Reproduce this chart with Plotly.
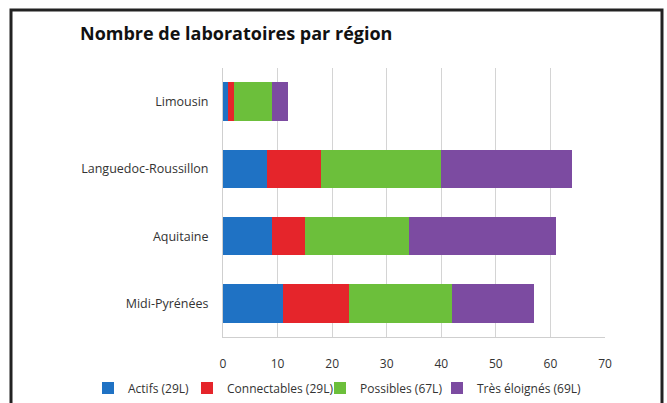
import plotly.graph_objects as go

regions = ["Midi-Pyrénées", "Aquitaine", "Languedoc-Roussillon", "Limousin"]

actifs = [11, 9, 8, 1]
connectables = [12, 6, 10, 1]
possibles = [19, 19, 22, 7]
tres_eloignes = [15, 27, 24, 3]

series = [
    ("Actifs (29L)", actifs, "#1f72c4"),
    ("Connectables (29L)", connectables, "#e5252b"),
    ("Possibles (67L)", possibles, "#6cbf3b"),
    ("Très éloignés (69L)", tres_eloignes, "#7c4ba1"),
]

# plot area: x 223..605 px, y 68..337 px
def px(p):
    return (p - 223) / 382.0

def py(p):
    return (337 - p) / 269.0

# where each legend text starts (px)
legend_text_x = [128, 227, 360, 477]

fig = go.Figure()
legends = {}
for i, (name, vals, col) in enumerate(series):
    key = "legend" if i == 0 else "legend%d" % (i + 1)
    fig.add_trace(go.Bar(
        y=regions, x=vals, name=name, orientation="h",
        marker=dict(color=col, line=dict(width=0)),
        legend=key,
    ))
    legends[key] = dict(
        orientation="h", x=px(legend_text_x[i] - 40), xanchor="left",
        y=py(388), yanchor="middle", bgcolor="rgba(0,0,0,0)",
        font=dict(size=12, color="#333333"), itemwidth=30,
    )

fig.update_layout(
    width=667, height=403,
    margin=dict(l=223, r=62, t=68, b=66, autoexpand=False),
    barmode="stack",
    bargap=0.43,
    paper_bgcolor="white",
    plot_bgcolor="white",
    font=dict(family="Open Sans", size=12, color="#333333"),
    title=dict(
        text="<b>Nombre de laboratoires par région</b>",
        x=80 / 667, xref="container", xanchor="left",
        y=1 - 34 / 403, yref="container", yanchor="middle",
        font=dict(family="Open Sans", size=18, color="#111111"),
    ),
    xaxis=dict(
        range=[0, 70], dtick=10, showgrid=True, gridcolor="#d4d4d4",
        gridwidth=1, zeroline=False, showline=True, linecolor="#cfcfcf",
        ticks="", ticklabelstandoff=16,
        tickfont=dict(size=12, color="#333333"),
    ),
    yaxis=dict(
        showgrid=False, showline=True, linecolor="#cfcfcf",
        ticks="", ticklabelstandoff=11,
        tickfont=dict(size=12.5, color="#333333"),
    ),
    showlegend=True,
    shapes=[dict(
        type="rect", xref="paper", yref="paper",
        x0=px(11), x1=px(662), y0=py(420), y1=py(10),
        line=dict(color="#222222", width=3), fillcolor="rgba(0,0,0,0)",
        layer="above",
    )],
    **legends,
)

fig.write_html("out.html", config={"displayModeBar": False},
               post_script="document.body.style.margin='0';")
